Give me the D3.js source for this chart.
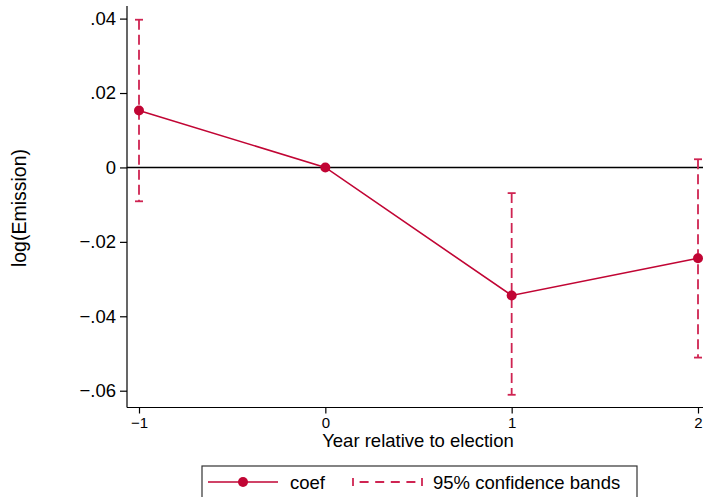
<!DOCTYPE html>
<html><head><meta charset="utf-8">
<script src="https://cdn.jsdelivr.net/npm/d3@7"></script>
<style>body{margin:0;background:#fff}svg{display:block}text{font-family:"Liberation Sans",Arial,sans-serif;fill:#000}</style>
</head><body><svg id="c" width="703" height="497"></svg>
<script>
const years = [-1, 0, 1, 2];
const coef = [0.0153, 0.0, -0.0344, -0.0244];
const ciLow = [-0.0091, 0.0, -0.0611, -0.0511];
const ciHigh = [0.0397, 0.0, -0.0069, 0.0022];
const yTicks = [0.04, 0.02, 0, -0.02, -0.04, -0.06];
const yTickLabels = [".04", ".02", "0", "\u2212.02", "\u2212.04", "\u2212.06"];
const xTicks = [-1, 0, 1, 2];
const xTickLabels = ["\u22121", "0", "1", "2"];
const legendLabels = ["coef", "95% confidence bands"];

const svg = d3.select("#c");
const lineCol = "#c10534", ciCol = "#cf2452";
const x = d3.scaleLinear().domain([-1, 2]).range([139, 698]);
const y = d3.scaleLinear().domain([-0.06, 0.04]).range([390.7, 18.6]);
const axisX = 127, axisY = 407.5;

// y axis
const ya = svg.append("g").attr("transform", `translate(${axisX},0)`)
  .call(d3.axisLeft(y).tickValues(yTicks).tickSize(7).tickPadding(4)
    .tickFormat((d, i) => yTickLabels[i]));
ya.select(".domain").remove();
ya.append("line").attr("x1", 0).attr("x2", 0).attr("y1", 6).attr("y2", axisY).attr("stroke", "#000").attr("stroke-width", 1.2);
ya.selectAll(".tick line").attr("stroke", "#000").attr("stroke-width", 1.2);
ya.selectAll(".tick text").attr("font-size", 18.5).attr("font-family", "Liberation Sans, Arial, sans-serif").attr("fill", "#000");

// x axis
const xa = svg.append("g").attr("transform", `translate(0,${axisY})`)
  .call(d3.axisBottom(x).tickValues(xTicks).tickSize(6).tickPadding(4)
    .tickFormat((d, i) => xTickLabels[i]));
xa.select(".domain").remove();
xa.append("line").attr("x1", axisX).attr("x2", 703).attr("y1", 0).attr("y2", 0).attr("stroke", "#000").attr("stroke-width", 1.2);
xa.selectAll(".tick line").attr("stroke", "#000").attr("stroke-width", 1.2);
xa.selectAll(".tick text").attr("font-size", 15).attr("font-family", "Liberation Sans, Arial, sans-serif").attr("fill", "#000");

// zero line
svg.append("line").attr("x1", axisX).attr("x2", 703).attr("y1", y(0)).attr("y2", y(0))
  .attr("stroke", "#000").attr("stroke-width", 1.6);

// CIs
const idx = d3.range(years.length).filter(i => ciLow[i] !== ciHigh[i]);
const ci = svg.append("g").attr("stroke", ciCol).attr("stroke-width", 1.8);
idx.forEach(i => {
  ci.append("line").attr("x1", x(years[i])).attr("x2", x(years[i]))
    .attr("y1", y(ciHigh[i])).attr("y2", y(ciLow[i])).attr("stroke-dasharray", "10,5");
  [ciHigh[i], ciLow[i]].forEach(v => ci.append("line")
    .attr("x1", x(years[i]) - 4).attr("x2", x(years[i]) + 4).attr("y1", y(v)).attr("y2", y(v)));
});

// coef line + markers
const pts = years.map((d, i) => [d, coef[i]]);
svg.append("path").datum(pts)
  .attr("d", d3.line().x(d => x(d[0])).y(d => y(d[1])))
  .attr("fill", "none").attr("stroke", lineCol).attr("stroke-width", 1.6);
svg.selectAll("circle.m").data(pts).join("circle").attr("class", "m")
  .attr("cx", d => x(d[0])).attr("cy", d => y(d[1])).attr("r", 5).attr("fill", lineCol);

// axis titles
svg.append("text").attr("x", 418).attr("y", 447).attr("text-anchor", "middle")
  .attr("font-size", 18.5).text("Year relative to election");
svg.append("text").attr("transform", "translate(26,208) rotate(-90)").attr("text-anchor", "middle")
  .attr("font-size", 19.5).text("log(Emission)");

// legend
svg.append("rect").attr("x", 202).attr("y", 466).attr("width", 435).attr("height", 60)
  .attr("fill", "#fff").attr("stroke", "#333").attr("stroke-width", 1.2);
const ly = 482;
svg.append("line").attr("x1", 208).attr("x2", 278).attr("y1", ly).attr("y2", ly).attr("stroke", lineCol).attr("stroke-width", 1.6);
svg.append("circle").attr("cx", 243).attr("cy", ly).attr("r", 5).attr("fill", lineCol);
svg.append("text").attr("x", 290).attr("y", ly + 6.5).attr("font-size", 18.5).text(legendLabels[0]);
const lg = svg.append("g").attr("stroke", ciCol).attr("stroke-width", 1.8);
lg.append("line").attr("x1", 353).attr("x2", 422).attr("y1", ly).attr("y2", ly)
  .attr("stroke-dasharray", "9,6.6").attr("stroke-dashoffset", 9);
[353, 422].forEach(px => lg.append("line").attr("x1", px).attr("x2", px).attr("y1", ly - 4).attr("y2", ly + 4));
svg.append("text").attr("x", 433).attr("y", ly + 6.5).attr("font-size", 18.5).text(legendLabels[1]);
</script></body></html>
